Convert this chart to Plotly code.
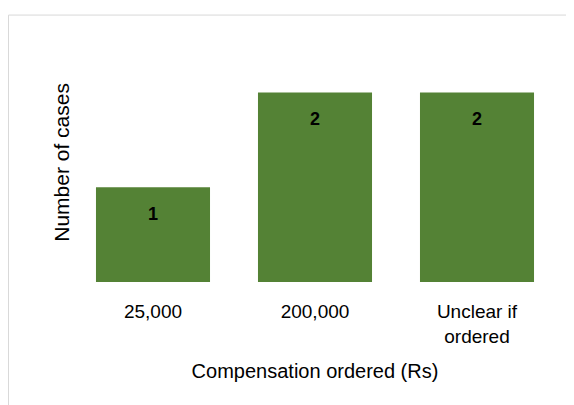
import plotly.graph_objects as go

categories = ["25,000", "200,000", "Unclear if<br>ordered"]
values = [1, 2, 2]
labels = ["1", "2", "2"]

BAR_COLOR = "#548235"
FONT = "Liberation Sans, Arial, sans-serif"

fig = go.Figure(go.Bar(
    x=categories, y=values,
    marker=dict(color=BAR_COLOR, line=dict(width=0)),
    hoverinfo="skip",
))

for c, v, t in zip(categories, values, labels):
    fig.add_annotation(x=c, y=v, text="<b>%s</b>" % t, showarrow=False,
                       yanchor="top", yshift=-15,
                       font=dict(size=18, color="#000000", family=FONT))

W, H = 574, 405
L, R, T, B = 64, 24, 36.5, 131
pw, ph = W - L - R, H - T - B
bottom_px = H - B

# y-axis title placed as a rotated annotation
fig.add_annotation(xref="paper", yref="paper",
                   x=(54 - L) / pw, y=(bottom_px - 154.5) / ph,
                   text="Number of cases", textangle=-90, showarrow=False,
                   xanchor="center", yanchor="middle",
                   font=dict(size=21, color="#000000", family=FONT))

fig.add_shape(type="rect", xref="paper", yref="paper",
              x0=(0.5 - L) / pw, x1=(600 - L) / pw,
              y0=(bottom_px - 420) / ph, y1=(bottom_px - 6.5) / ph,
              line=dict(color="#d9d9d9", width=1), fillcolor="rgba(0,0,0,0)",
              layer="below")

fig.update_layout(
    width=W, height=H,
    margin=dict(l=L, r=R, t=T, b=B),
    paper_bgcolor="white", plot_bgcolor="white",
    bargap=0.296,
    showlegend=False,
    font=dict(family=FONT, size=19, color="#000000"),
    xaxis=dict(
        title=dict(text="Compensation ordered (Rs)", font=dict(size=20), standoff=18),
        showgrid=False, showline=False, ticks="", zeroline=False,
        tickfont=dict(size=19), ticklabelstandoff=16,
    ),
    yaxis=dict(
        range=[0, 2.5], showgrid=False, showticklabels=False, ticks="",
        zeroline=False, showline=False,
    ),
)

fig.write_html("out.html")
